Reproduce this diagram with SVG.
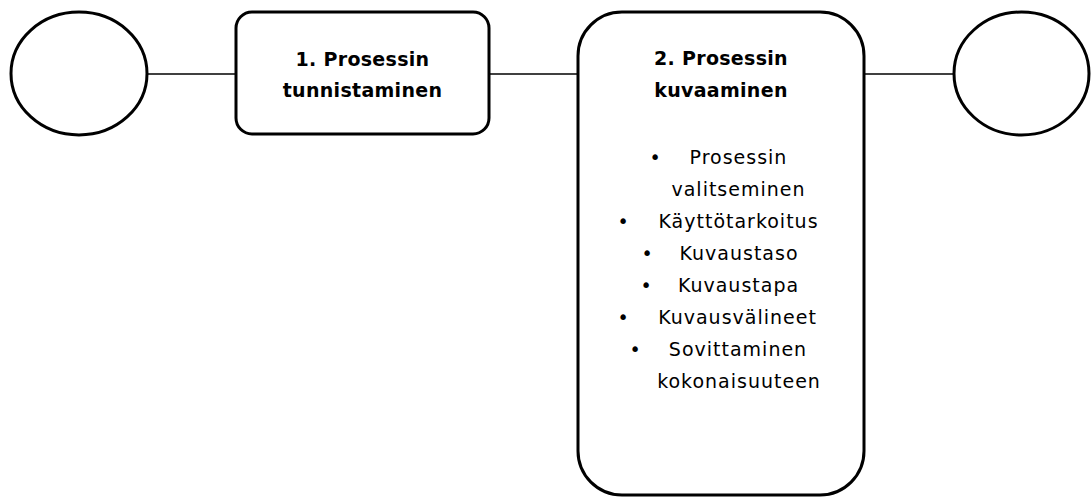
<svg xmlns="http://www.w3.org/2000/svg" width="1091" height="497" viewBox="0 0 1091 497">
<style>
.shape{fill:#fff;stroke:#000;stroke-width:3}
.conn{stroke:#000;stroke-width:1.5;fill:none}
.title{font-family:"DejaVu Sans",sans-serif;font-weight:bold;font-size:19px;text-anchor:middle;fill:#000;letter-spacing:0.3px}
.item{font-family:"DejaVu Sans",sans-serif;font-size:19px;text-anchor:middle;fill:#000;letter-spacing:1px}
.bul{font-family:"DejaVu Sans",sans-serif;font-size:19px;text-anchor:middle;fill:#000}
</style>
<rect width="1091" height="497" fill="#fff"/>
<g id="connectors">
<line class="conn" x1="147" y1="74" x2="236" y2="74"/>
<line class="conn" x1="489" y1="74" x2="578" y2="74"/>
<line class="conn" x1="864" y1="74" x2="954" y2="74"/>
</g>
<g id="start">
<ellipse class="shape" cx="79" cy="73.5" rx="68" ry="61.5"/>
</g>
<g id="step1">
<rect class="shape" x="236" y="12" width="253" height="122" rx="16" ry="16"/>
<text class="title" x="362.5" y="66">1. Prosessin</text>
<text class="title" x="362.5" y="97">tunnistaminen</text>
</g>
<g id="step2">
<rect class="shape" x="578" y="12" width="286" height="483" rx="44" ry="44"/>
<text class="title" x="721" y="65">2. Prosessin</text>
<text class="title" x="721" y="97">kuvaaminen</text>
<text class="bul" x="655" y="164">•</text>
<text class="item" x="738.5" y="164">Prosessin</text>
<text class="item" x="738.5" y="196">valitseminen</text>
<text class="bul" x="623" y="228">•</text>
<text class="item" x="738.5" y="228">Käyttötarkoitus</text>
<text class="bul" x="647" y="260">•</text>
<text class="item" x="739" y="260">Kuvaustaso</text>
<text class="bul" x="646" y="292">•</text>
<text class="item" x="738.5" y="292">Kuvaustapa</text>
<text class="bul" x="623" y="324">•</text>
<text class="item" x="737.5" y="324">Kuvausvälineet</text>
<text class="bul" x="635" y="356">•</text>
<text class="item" x="738" y="356">Sovittaminen</text>
<text class="item" x="739" y="388">kokonaisuuteen</text>
</g>
<g id="end">
<ellipse class="shape" cx="1021.5" cy="73.5" rx="67.5" ry="61.5"/>
</g>
</svg>
